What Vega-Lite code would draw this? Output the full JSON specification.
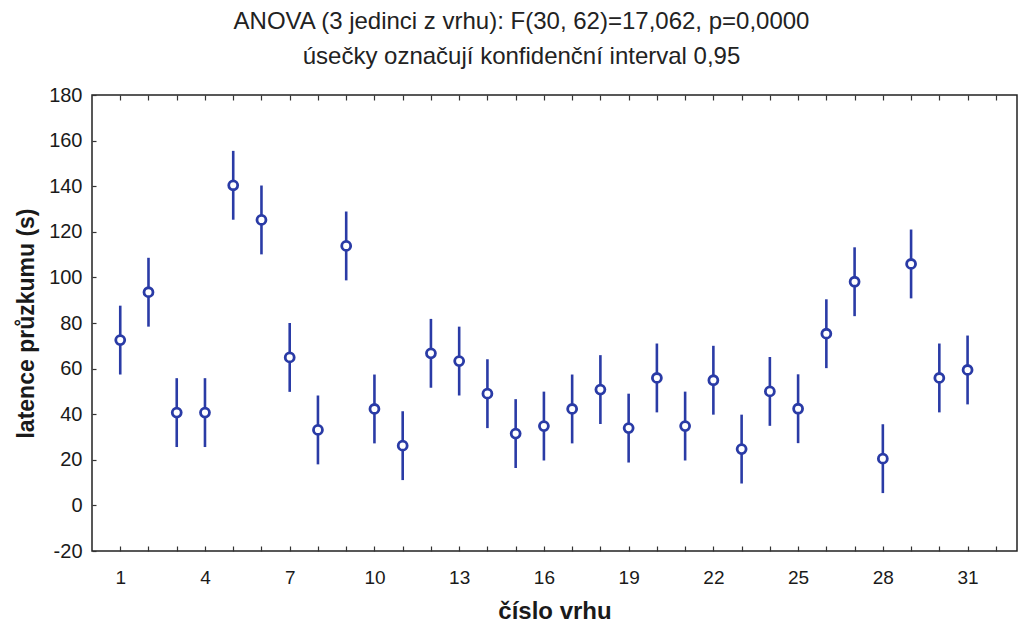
{
  "$schema": "https://vega.github.io/schema/vega-lite/v6.json",
  "autosize": {"type": "none"},
  "padding": {"left": 92, "top": 95, "right": 2, "bottom": 73},
  "width": 925,
  "height": 456,
  "background": "white",
  "title": {
    "text": ["ANOVA (3 jedinci z vrhu): F(30, 62)=17,062, p=0,0000", "úsečky označují konfidenční interval 0,95"],
    "font": "Liberation Sans",
    "fontSize": 24,
    "fontWeight": "normal",
    "color": "#222222",
    "lineHeight": 35,
    "anchor": "middle",
    "dx": -33,
    "offset": 16
  },
  "config": {
    "view": {"stroke": "#222222", "strokeWidth": 1.5},
    "axis": {
      "labelFont": "Liberation Sans",
      "titleFont": "Liberation Sans",
      "labelColor": "#1a1a1a",
      "titleColor": "#1a1a1a",
      "domain": false,
      "grid": false,
      "tickColor": "#333333",
      "tickWidth": 1.2
    }
  },
  "data": {
    "values": [
      {"vrh": 1, "mean": 72.5, "lo": 57.4, "hi": 87.6},
      {"vrh": 2, "mean": 93.5, "lo": 78.4, "hi": 108.6},
      {"vrh": 3, "mean": 40.7, "lo": 25.6, "hi": 55.8},
      {"vrh": 4, "mean": 40.7, "lo": 25.6, "hi": 55.8},
      {"vrh": 5, "mean": 140.4, "lo": 125.3, "hi": 155.5},
      {"vrh": 6, "mean": 125.2, "lo": 110.1, "hi": 140.3},
      {"vrh": 7, "mean": 64.9, "lo": 49.8, "hi": 80.0},
      {"vrh": 8, "mean": 33.1, "lo": 18.0, "hi": 48.2},
      {"vrh": 9, "mean": 113.8, "lo": 98.7, "hi": 128.9},
      {"vrh": 10, "mean": 42.3, "lo": 27.2, "hi": 57.4},
      {"vrh": 11, "mean": 26.2, "lo": 11.1, "hi": 41.3},
      {"vrh": 12, "mean": 66.7, "lo": 51.6, "hi": 81.8},
      {"vrh": 13, "mean": 63.3, "lo": 48.2, "hi": 78.4},
      {"vrh": 14, "mean": 49.0, "lo": 33.9, "hi": 64.1},
      {"vrh": 15, "mean": 31.5, "lo": 16.4, "hi": 46.6},
      {"vrh": 16, "mean": 34.8, "lo": 19.7, "hi": 49.9},
      {"vrh": 17, "mean": 42.3, "lo": 27.2, "hi": 57.4},
      {"vrh": 18, "mean": 50.8, "lo": 35.7, "hi": 65.9},
      {"vrh": 19, "mean": 33.9, "lo": 18.8, "hi": 49.0},
      {"vrh": 20, "mean": 55.9, "lo": 40.8, "hi": 71.0},
      {"vrh": 21, "mean": 34.8, "lo": 19.7, "hi": 49.9},
      {"vrh": 22, "mean": 54.9, "lo": 39.8, "hi": 70.0},
      {"vrh": 23, "mean": 24.7, "lo": 9.6, "hi": 39.8},
      {"vrh": 24, "mean": 50.0, "lo": 34.9, "hi": 65.1},
      {"vrh": 25, "mean": 42.4, "lo": 27.3, "hi": 57.5},
      {"vrh": 26, "mean": 75.3, "lo": 60.2, "hi": 90.4},
      {"vrh": 27, "mean": 98.1, "lo": 83.0, "hi": 113.2},
      {"vrh": 28, "mean": 20.5, "lo": 5.4, "hi": 35.6},
      {"vrh": 29, "mean": 105.9, "lo": 90.8, "hi": 121.0},
      {"vrh": 30, "mean": 55.9, "lo": 40.8, "hi": 71.0},
      {"vrh": 31, "mean": 59.4, "lo": 44.3, "hi": 74.5}
    ]
  },
  "layer": [
    {
      "mark": {"type": "rule", "color": "#2a3ba6", "strokeWidth": 2.6},
      "encoding": {
        "x": {
          "field": "vrh", "type": "quantitative",
          "scale": {"domain": [0, 32.75], "nice": false, "zero": false},
          "axis": {
            "orient": "bottom",
            "title": "číslo vrhu",
            "titleFontSize": 24,
            "titleFontWeight": "bold",
            "titlePadding": 12,
            "values": [1,2,3,4,5,6,7,8,9,10,11,12,13,14,15,16,17,18,19,20,21,22,23,24,25,26,27,28,29,30,31,32],
            "labelExpr": "(datum.value - 1) % 3 == 0 && datum.value < 32 ? datum.label : ''",
            "labelFontSize": 19,
            "labelPadding": 22,
            "tickSize": -5
          }
        },
        "y": {
          "field": "lo", "type": "quantitative",
          "scale": {"domain": [-20, 180], "nice": false, "zero": false},
          "axis": {
            "orient": "left",
            "title": "latence průzkumu (s)",
            "titleFontSize": 23,
            "titleFontWeight": "bold",
            "titlePadding": 10,
            "values": [-20, 0, 20, 40, 60, 80, 100, 120, 140, 160, 180],
            "labelExpr": "datum.value < 0 ? '-' + abs(datum.value) : datum.label",
            "labelFontSize": 20,
            "labelPadding": 14,
            "tickSize": -4
          }
        },
        "y2": {"field": "hi"}
      }
    },
    {
      "mark": {"type": "point", "shape": "circle", "filled": false, "fill": "white", "color": "#2a3ba6", "strokeWidth": 2.8, "size": 80, "opacity": 1},
      "encoding": {
        "x": {
          "field": "vrh", "type": "quantitative",
          "axis": {
            "orient": "top",
            "title": null,
            "labels": false,
            "values": [1,2,3,4,5,6,7,8,9,10,11,12,13,14,15,16,17,18,19,20,21,22,23,24,25,26,27,28,29,30,31,32],
            "tickSize": -5
          }
        },
        "y": {"field": "mean", "type": "quantitative"}
      }
    }
  ]
}
